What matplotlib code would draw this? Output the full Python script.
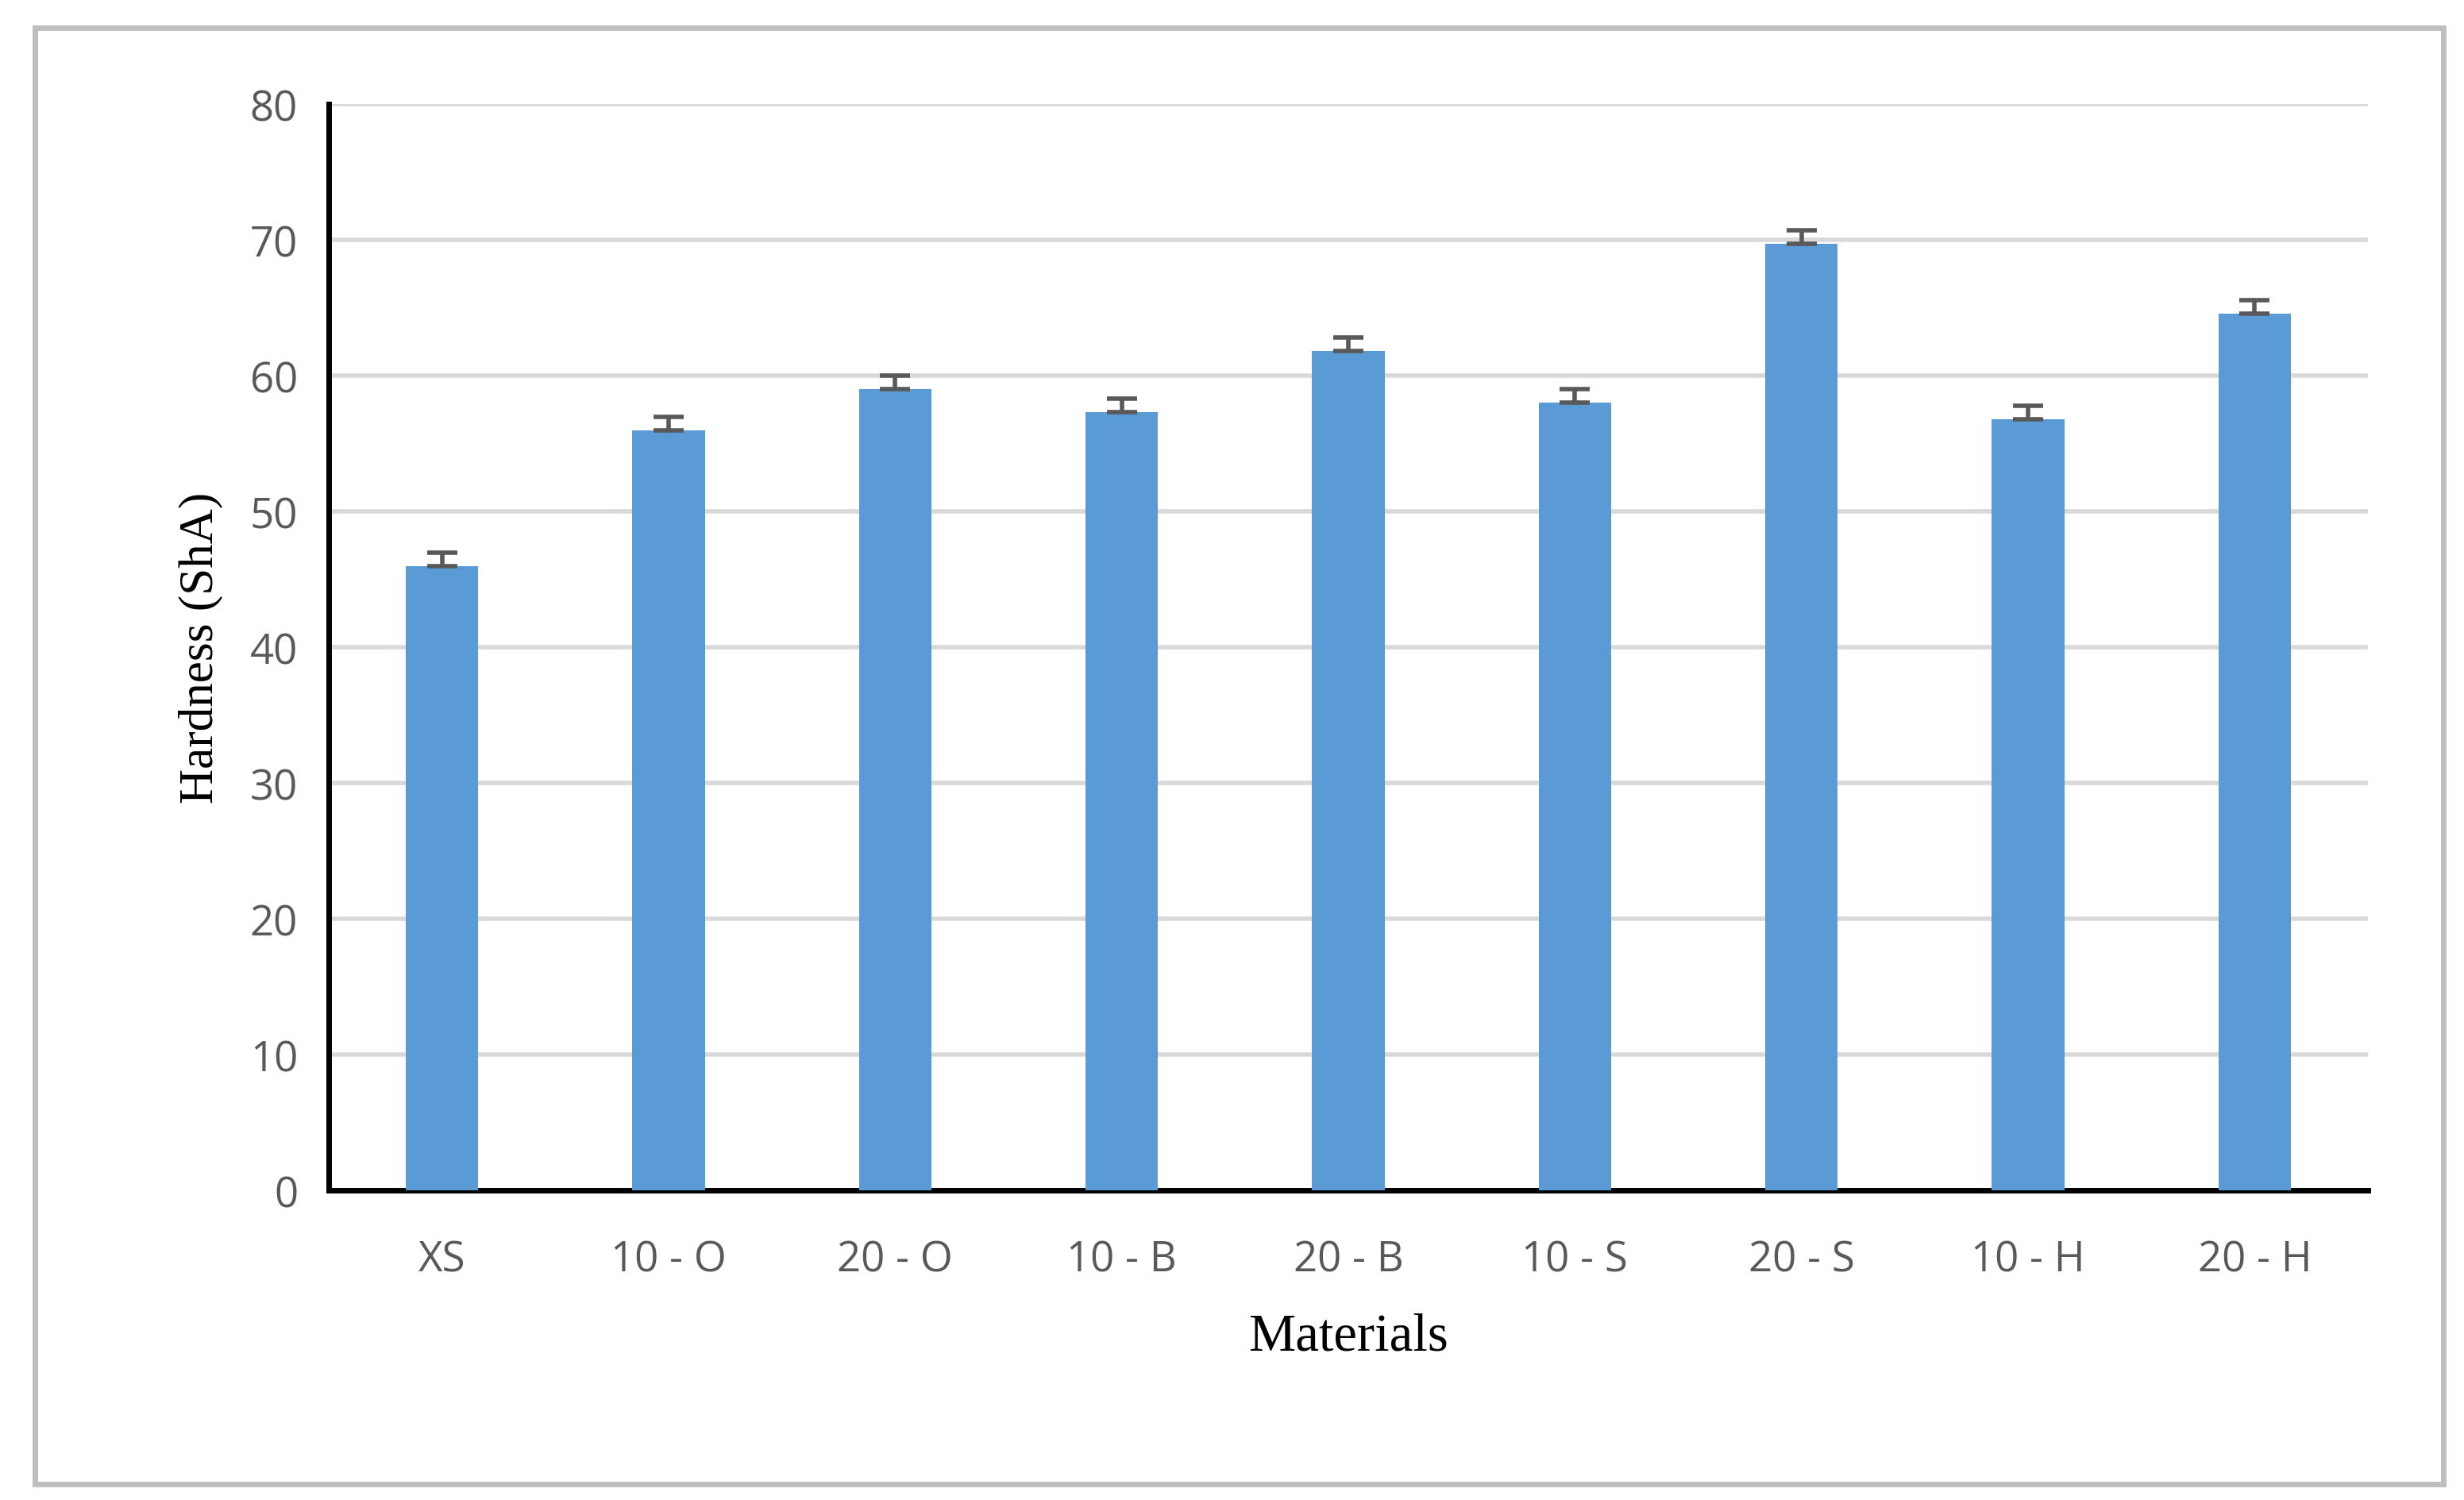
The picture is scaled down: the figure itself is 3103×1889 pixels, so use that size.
import matplotlib
matplotlib.use("Agg")
import matplotlib.pyplot as plt
from matplotlib.patches import Rectangle

# Data
materials = ["XS", "10 - O", "20 - O", "10 - B", "20 - B", "10 - S", "20 - S", "10 - H", "20 - H"]
hardness = [46.0, 56.0, 59.0, 57.3, 61.8, 58.0, 69.7, 56.8, 64.6]
errors = [1.0, 1.0, 1.0, 1.0, 1.0, 1.0, 1.0, 1.0, 1.0]

fig = plt.figure(figsize=(15.515, 9.45), dpi=200, facecolor='white')
ax = fig.add_axes([0.1334, 0.2063, 0.8276, 0.7237])

x = range(len(materials))
ax.bar(x, hardness, width=0.32, color='#5B9BD5', zorder=3)
ax.errorbar(x, hardness, yerr=[[0] * len(errors), errors], fmt='none',
            ecolor='#595959', elinewidth=2, capsize=7, capthick=2, zorder=4)

ax.set_xlim(-0.5, len(materials) - 0.5)
ax.set_ylim(0, 80)
ax.set_yticks(range(0, 81, 10))
ax.set_xticks(list(x))
ax.set_xticklabels(materials)
ax.yaxis.grid(True, color='#D9D9D9', linewidth=2, zorder=0)
ax.tick_params(axis='both', length=0, labelsize=19, labelcolor='#595959', pad=14)
for lab in ax.get_xticklabels() + ax.get_yticklabels():
    lab.set_family('Open Sans')
ax.tick_params(axis='x', pad=22)
for s in ['top', 'right']:
    ax.spines[s].set_visible(False)
ax.spines['left'].set_linewidth(2.5)
ax.spines['bottom'].set_linewidth(2.5)

ax.set_xlabel("Materials", family='Liberation Serif', fontsize=24, labelpad=14)
ax.set_ylabel("Hardness (ShA)", family='Liberation Serif', fontsize=22, labelpad=12)

fig.patches.append(Rectangle((0.0142, 0.0106), 0.9775, 0.9704, transform=fig.transFigure,
                             fill=False, edgecolor='#BFBFBF', linewidth=2.5))

fig.savefig("out.png", dpi=200)
